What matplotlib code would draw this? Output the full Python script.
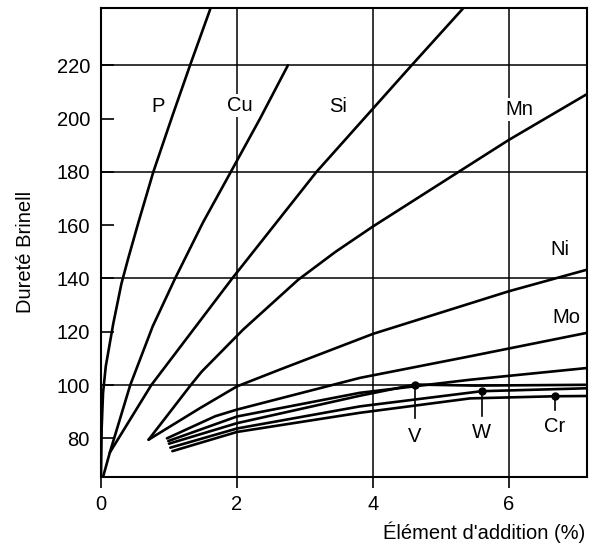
import matplotlib
matplotlib.use("Agg")
from matplotlib import pyplot as plt

plt.rcParams['font.family'] = ['Liberation Sans', 'DejaVu Sans']

# courbes de durete
p_x = [0, 0.01, 0.03, 0.07, 0.18, 0.30, 0.40, 0.55, 0.77, 1.05, 1.31, 1.62]
p_y = [66, 84, 97, 107, 123, 138, 147.5, 161, 180, 201, 220, 242]

cu_x = [0.03, 0.13, 0.43, 0.76, 1.09, 1.50, 1.91, 2.34, 2.75]
cu_y = [65.5, 74.7, 100, 122, 140, 161, 180, 200, 220]

si_x = [0.13, 0.74, 1.93, 3.17, 4.57, 5.35]
si_y = [74.7, 100, 140, 180, 220, 242]

mn_x = [0.70, 1.33, 1.48, 2.09, 2.90, 3.45, 4.0, 5.23, 6.0, 7.15]
mn_y = [79.5, 100.3, 105, 120.8, 139.5, 150, 159.5, 179.5, 192, 209.2]

ni_x = [0.70, 1.46, 2.0, 2.63, 4.0, 6.0, 7.15]
ni_y = [79.5, 91.4, 99.5, 105.8, 119.2, 135.2, 143.3]

mo_x = [0.97, 1.68, 2.0, 3.81, 5.43, 7.15]
mo_y = [80, 88.3, 90.8, 102.7, 110.8, 119.6]

x5_x = [0.99, 2.0, 3.81, 5.43, 7.15]
x5_y = [79, 88.2, 97.1, 102.0, 106.4]

v_x = [1.0, 2.0, 3.81, 4.62, 5.5, 7.15]
v_y = [78, 85.7, 96.0, 100.2, 99.8, 100.1]

w_x = [1.02, 2.0, 3.81, 5.6, 7.15]
w_y = [76.5, 83.7, 92.0, 97.7, 98.8]

cr_x = [1.05, 2.0, 3.81, 5.43, 6.68, 7.15]
cr_y = [75.2, 82.4, 89.6, 95.0, 95.8, 95.9]

# points marques (maximum) pour V, W, Cr
dot_x = [4.62, 5.6, 6.68]
dot_y = [100.2, 97.7, 95.8]
stem_end = [87.8, 88.3, 90.8]
dot_names = ['V', 'W', 'Cr']
dot_label_y = [80.8, 82.1, 84.5]

# etiquettes des courbes
names = ['P', 'Cu', 'Si', 'Mn', 'Ni', 'Mo']
name_x = [0.84, 2.04, 3.49, 6.16, 6.75, 6.84]
name_y = [204.5, 204.8, 204.4, 203.3, 150.8, 125.3]

y_ticks = [80, 100, 120, 140, 160, 180, 200, 220]
x_ticks = [0, 2, 4, 6]
h_grid = [100, 140, 180, 220]
v_grid = [2, 4, 6]

fig = plt.figure(figsize=(5.92, 5.54), dpi=100)
ax = fig.add_axes([101/592, 77/554, 486/592, 469/554])

for g in h_grid:
    ax.axhline(g, color='black', lw=1.1, zorder=1)
for g in v_grid:
    ax.axvline(g, color='black', lw=1.1, zorder=1)

for xs, ys in [(p_x, p_y), (cu_x, cu_y), (si_x, si_y), (mn_x, mn_y),
               (ni_x, ni_y), (mo_x, mo_y), (x5_x, x5_y), (v_x, v_y),
               (w_x, w_y), (cr_x, cr_y)]:
    ax.plot(xs, ys, color='black', lw=1.9, solid_capstyle='round',
            solid_joinstyle='round', zorder=4)

for i in range(len(dot_x)):
    ax.plot([dot_x[i], dot_x[i]], [dot_y[i], stem_end[i]], color='black', lw=1.2, zorder=4)
    ax.text(dot_x[i], dot_label_y[i], dot_names[i], ha='center', va='center', fontsize=14.5)
ax.plot(dot_x, dot_y, 'o', color='black', ms=5, zorder=5)

for i in range(len(names)):
    ax.text(name_x[i], name_y[i], names[i], ha='center', va='center', fontsize=14.5,
            bbox=dict(facecolor='white', edgecolor='none', pad=1.5), zorder=3)

ax.set_xlim(0, 7.15)
ax.set_ylim(65.5, 241.5)
ax.set_xticks(x_ticks)
ax.set_yticks(y_ticks)
ax.tick_params(axis='y', direction='in', length=9, width=1.2, labelsize=14.5, pad=8)
ax.tick_params(axis='x', direction='out', length=8, width=1.2, labelsize=14.5, pad=5)
for s in ax.spines.values():
    s.set_linewidth(1.5)

ax.set_ylabel('Dureté Brinell', fontsize=14.5)
ax.yaxis.set_label_coords(-0.135, 0.48)
ax.set_xlabel("Élément d'addition (%)", fontsize=14.5, loc='right')
ax.xaxis.set_label_coords(0.996, -0.095)

fig.savefig('out.png', dpi=100)
